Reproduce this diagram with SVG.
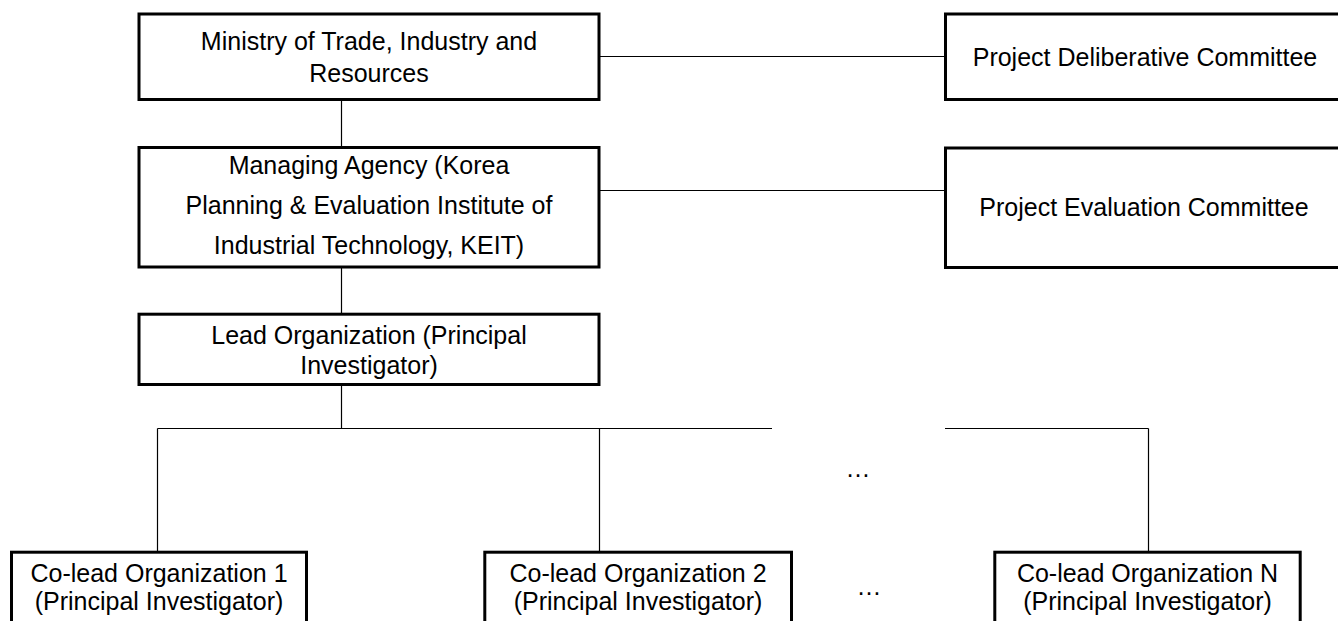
<svg xmlns="http://www.w3.org/2000/svg" width="1338" height="621" viewBox="0 0 1338 621">
<style>
.box{fill:#fff;stroke:#000;stroke-width:3}
.conn{stroke:#000;stroke-width:1.2;fill:none}
text{font-family:"Liberation Sans",Arial,sans-serif;font-size:25px;fill:#000;text-anchor:middle}
</style>
<rect width="1338" height="621" fill="#fff"/>
<g id="connectors">
<line class="conn" x1="600" y1="56.5" x2="945" y2="56.5"/>
<line class="conn" x1="600" y1="190.5" x2="945" y2="190.5"/>
<line class="conn" x1="341.5" y1="100" x2="341.5" y2="146"/>
<line class="conn" x1="341.5" y1="268" x2="341.5" y2="313"/>
<line class="conn" x1="341.5" y1="386" x2="341.5" y2="428.5"/>
<line class="conn" x1="157.5" y1="428.5" x2="772" y2="428.5"/>
<line class="conn" x1="945" y1="428.5" x2="1148.5" y2="428.5"/>
<line class="conn" x1="157.5" y1="428.5" x2="157.5" y2="551"/>
<line class="conn" x1="599.5" y1="428.5" x2="599.5" y2="551"/>
<line class="conn" x1="1148.5" y1="428.5" x2="1148.5" y2="551"/>
</g>
<g id="ministry">
<rect class="box" x="139" y="14" width="460" height="85.5"/>
<text x="369" y="50">Ministry of Trade, Industry and</text>
<text x="369" y="81.5">Resources</text>
</g>
<g id="deliberative">
<rect class="box" x="945.5" y="14" width="400" height="85.5"/>
<text x="1145" y="66">Project Deliberative Committee</text>
</g>
<g id="managing">
<rect class="box" x="139" y="147.5" width="460" height="119.5"/>
<text x="369" y="173.5">Managing Agency (Korea</text>
<text x="369" y="214">Planning &amp; Evaluation Institute of</text>
<text x="369" y="253.5">Industrial Technology, KEIT)</text>
</g>
<g id="evaluation">
<rect class="box" x="945.5" y="148" width="400" height="119.5"/>
<text x="1144" y="216">Project Evaluation Committee</text>
</g>
<g id="lead">
<rect class="box" x="139" y="314.2" width="460" height="70.3"/>
<text x="369" y="344">Lead Organization (Principal</text>
<text x="369" y="373.5">Investigator)</text>
</g>
<g id="colead1">
<rect class="box" x="11.5" y="552.2" width="295" height="90"/>
<text x="159" y="581.5">Co-lead Organization 1</text>
<text x="159" y="610">(Principal Investigator)</text>
</g>
<g id="colead2">
<rect class="box" x="484.8" y="552.2" width="306.7" height="90"/>
<text x="638" y="581.5">Co-lead Organization 2</text>
<text x="638" y="610">(Principal Investigator)</text>
</g>
<g id="coleadN">
<rect class="box" x="994.8" y="552.2" width="305.4" height="90"/>
<text x="1147.5" y="581.5">Co-lead Organization N</text>
<text x="1147.5" y="610">(Principal Investigator)</text>
</g>
<g id="ellipsis1"><text x="858" y="477">…</text></g>
<g id="ellipsis2"><text x="869" y="595">…</text></g>
</svg>
